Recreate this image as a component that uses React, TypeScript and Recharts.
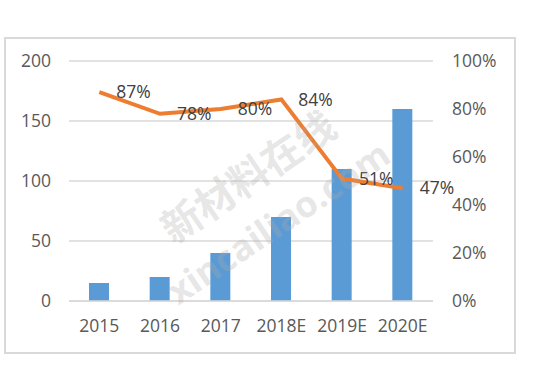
import { ComposedChart, Bar, Line, XAxis, YAxis, CartesianGrid, LabelList } from "recharts";

// categories and series
const years = ["2015", "2016", "2017", "2018E", "2019E", "2020E"];
const output = [15, 20, 40, 70, 110, 160];
const share = [87, 78, 80, 84, 51, 47];
const leftTicks = [0, 50, 100, 150, 200];
const rightTicks = [0, 20, 40, 60, 80, 100];

const data = years.map((y, i) => ({ year: y, output: output[i], share: share[i] }));

const FONT = "'Open Sans', 'Noto Sans', sans-serif";
const tickStyle = { fill: "#595959", fontSize: 17.5, fontFamily: FONT };

export default function App() {
  return (
    <div style={{ position: "absolute", left: 0, top: 0, width: 541, height: 390, background: "#fff" }}>
      <div
        style={{
          position: "absolute",
          left: 4,
          top: 37,
          width: 508,
          height: 313,
          border: "2px solid #d9d9d9",
        }}
      />
      <ComposedChart
        width={541}
        height={390}
        data={data}
        margin={{ top: 61, right: 38, left: 19, bottom: 59 }}
        style={{ position: "absolute", left: 0, top: 0 }}
      >
        <CartesianGrid vertical={false} stroke="#d9d9d9" strokeWidth={1.5} yAxisId="left" />
        <XAxis
          dataKey="year"
          axisLine={{ stroke: "#d9d9d9", strokeWidth: 1.5 }}
          tickLine={false}
          tickSize={0}
          tickMargin={19}
          height={30}
          tick={tickStyle}
          interval={0}
        />
        <YAxis
          yAxisId="left"
          domain={[0, 200]}
          ticks={leftTicks}
          axisLine={false}
          tickLine={false}
          tickSize={0}
          tickMargin={18}
          width={50}
          tick={tickStyle}
        />
        <YAxis
          yAxisId="right"
          orientation="right"
          domain={[0, 100]}
          ticks={rightTicks}
          tickFormatter={(v) => v + "%"}
          axisLine={false}
          tickLine={false}
          tickSize={0}
          tickMargin={19}
          width={70}
          tick={tickStyle}
        />
        <Bar yAxisId="left" dataKey="output" fill="#5B9BD5" barSize={20} isAnimationActive={false} />
        <Line
          yAxisId="right"
          type="linear"
          dataKey="share"
          stroke="#ED7D31"
          strokeWidth={4}
          dot={false}
          isAnimationActive={false}
        >
          <LabelList
            dataKey="share"
            position="right"
            offset={17}
            formatter={(v: number) => v + "%"}
            style={{ fill: "#404040", fontSize: 17.5, fontFamily: FONT }}
          />
        </Line>
      </ComposedChart>
      {/* watermark */}
      <svg width={541} height={390} style={{ position: "absolute", left: 0, top: 0, pointerEvents: "none" }}>
        <text
          x={247}
          y={175}
          textAnchor="middle"
          dominantBaseline="central"
          transform="rotate(-34 247 175)"
          style={{ fontSize: 40, fontWeight: 700, fontFamily: "'Noto Sans CJK SC', sans-serif", fill: "rgba(170,170,170,0.3)" }}
        >
          新材料在线
        </text>
        <text
          x={278}
          y={222}
          textAnchor="middle"
          dominantBaseline="central"
          transform="rotate(-34 278 222)"
          style={{ fontSize: 36, fontWeight: 700, fontFamily: "'Open Sans', sans-serif", fill: "rgba(170,170,170,0.3)" }}
        >
          xincailiao.com
        </text>
      </svg>
    </div>
  );
}
